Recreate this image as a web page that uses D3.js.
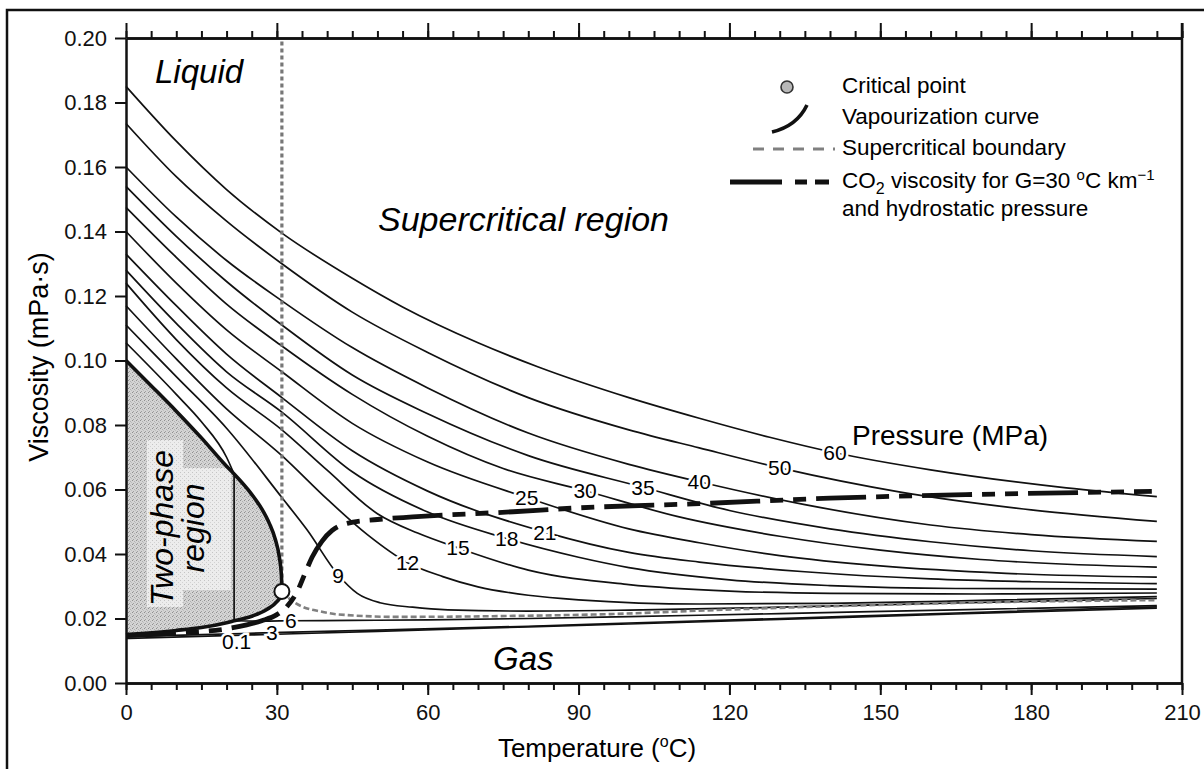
<!DOCTYPE html>
<html>
<head>
<meta charset="utf-8">
<script src="https://cdnjs.cloudflare.com/ajax/libs/d3/7.8.5/d3.min.js"></script>
<style>
    body { margin: 0; background: #fff; }
    svg { display: block; font-family: "Liberation Sans", Arial, sans-serif; }
</style>
</head>
<body>
<svg id="chart" width="1204" height="769"></svg>
<script>
// ---- data: [temperature (C), viscosity (mPa s)] ----
const X_TICKS = [0, 30, 60, 90, 120, 150, 180, 210]
const X_MINOR_STEP = 5
const Y_TICKS = [0, 0.02, 0.04, 0.06, 0.08, 0.10, 0.12, 0.14, 0.16, 0.18, 0.20]

const P60 = [[0, 0.185], [10, 0.168], [20, 0.153], [31, 0.1395], [45, 0.1255], [55, 0.1166], [70, 0.1055], [82, 0.098], [100, 0.0885], [114, 0.0821], [128, 0.0762], [141, 0.0714], [160, 0.0661], [187, 0.0605], [205, 0.0578]]
const P50 = [[0, 0.1735], [10, 0.157], [20, 0.1432], [31, 0.130], [45, 0.115], [60, 0.1025], [80, 0.0885], [100, 0.0785], [114, 0.0729], [130, 0.0667], [154, 0.0592], [180, 0.0537], [205, 0.0501]]
const P40 = [[0, 0.160], [10, 0.1445], [20, 0.131], [31, 0.1185], [45, 0.104], [60, 0.0915], [80, 0.0775], [100, 0.0678], [114, 0.0624], [135, 0.0553], [160, 0.049], [180, 0.046], [205, 0.0439]]
const P35 = [[0, 0.154], [10, 0.1385], [20, 0.1245], [31, 0.111], [45, 0.0955], [60, 0.0835], [80, 0.0705], [102.8, 0.0607], [120, 0.0535], [140, 0.0478], [160, 0.0438], [180, 0.041], [205, 0.0392]]
const P30 = [[0, 0.1475], [10, 0.132], [20, 0.1175], [31, 0.1045], [45, 0.0895], [60, 0.0765], [75, 0.0665], [91.3, 0.0596], [110, 0.0515], [130, 0.0455], [150, 0.0412], [170, 0.0383], [205, 0.0359]]
const P25 = [[0, 0.140], [10, 0.124], [20, 0.1095], [31, 0.0965], [45, 0.0805], [60, 0.0685], [79.7, 0.0575], [100, 0.0478], [114, 0.0435], [130, 0.0395], [150, 0.0363], [175, 0.034], [205, 0.0328]]
const P21 = [[0, 0.133], [10, 0.117], [20, 0.102], [31, 0.0885], [45, 0.072], [60, 0.0595], [83.3, 0.0468], [100, 0.0405], [114, 0.0375], [135, 0.0345], [160, 0.0323], [180, 0.0314], [205, 0.0308]]
const P18 = [[0, 0.128], [10, 0.1115], [20, 0.0965], [31, 0.084], [45, 0.0655], [60, 0.053], [75.7, 0.0448], [90, 0.039], [100, 0.0358], [120, 0.032], [140, 0.0302], [165, 0.0293], [205, 0.0291]]
const P15 = [[0, 0.124], [10, 0.1065], [20, 0.0915], [31, 0.0785], [40, 0.066], [50, 0.0525], [58, 0.0465], [66, 0.0419], [80, 0.035], [100, 0.0305], [120, 0.0285], [140, 0.0278], [170, 0.0276], [205, 0.0279]]
const P12 = [[0, 0.117], [10, 0.1005], [20, 0.085], [31, 0.0705], [40, 0.057], [48, 0.046], [56, 0.0373], [63, 0.033], [70, 0.0298], [80, 0.0272], [90, 0.0258], [114, 0.0245], [140, 0.0247], [170, 0.0256], [205, 0.0268]]
const P9 = [[0, 0.111], [10, 0.095], [20, 0.079], [31, 0.0575], [36, 0.0475], [42.2, 0.0335], [46, 0.0278], [50.5, 0.0249], [57, 0.0235], [64, 0.0227], [80, 0.0223], [100, 0.0226], [130, 0.0235], [165, 0.0248], [205, 0.0262]]
const P6_LIQUID = [[0, 0.1055], [10, 0.0895], [15, 0.081], [20, 0.07], [21.5, 0.0648]]
const P6_GAS = [[21.5, 0.0193], [27, 0.0192], [32.8, 0.0193], [45, 0.0194], [60, 0.0196], [80, 0.02], [100, 0.0206], [130, 0.0215], [165, 0.0227], [205, 0.024]]
const P3 = [[0, 0.0144], [15, 0.015], [29, 0.0156], [50, 0.0164], [80, 0.0176], [100, 0.0186], [130, 0.02], [165, 0.0217], [205, 0.0236]]
const P01 = [[0, 0.0138], [25, 0.0149], [50, 0.016], [80, 0.0174], [100, 0.0183], [130, 0.0197], [165, 0.0214], [205, 0.0232]]

const SAT_LIQUID = [[0, 0.100], [5, 0.0922], [10, 0.0843], [15, 0.076], [20, 0.0672], [21.5, 0.0648], [25, 0.0585], [27, 0.054], [28.5, 0.0495], [29.7, 0.0445], [30.5, 0.039], [30.9, 0.0335], [31, 0.0284]]
const SAT_VAPOUR = [[0, 0.015], [10, 0.0163], [15, 0.0172], [20, 0.0187], [21.5, 0.0193], [25, 0.0207], [28, 0.0228], [30, 0.0252], [30.7, 0.0268], [31, 0.0284]]
const CRITICAL = [31, 0.0284]
const SC_BOUNDARY = [[31, 0.0284], [33, 0.0255], [35, 0.0237], [38.6, 0.0222], [42, 0.0213], [54, 0.0205], [77, 0.0208], [97, 0.0214], [113.5, 0.0224], [140, 0.0238], [174, 0.0251], [205, 0.0257]]
const HYDROSTATIC = [[0, 0.0147], [10, 0.0155], [20, 0.0168], [24, 0.018], [27, 0.0193], [30, 0.0212], [32, 0.0237], [34, 0.0282], [35.6, 0.034], [37, 0.039], [39, 0.044], [41, 0.0473], [44, 0.0495], [50, 0.0507], [57, 0.0515], [77, 0.0531], [90, 0.0543], [114, 0.0556], [140, 0.0573], [167, 0.0584], [204, 0.0594]]

const ISOBARS = [P60, P50, P40, P35, P30, P25, P21, P18, P15, P12, P9, P6_LIQUID, P6_GAS, P3, P01]
const ISOBAR_NAMES = ['0.1', '3', '6', '9', '12', '15', '18', '21', '25', '30', '35', '40', '50', '60']
const ISOBAR_LABEL_AT = [[22, 0.0128], [29, 0.0156], [32.8, 0.0193], [42.2, 0.0335], [56, 0.0373], [66, 0.0419], [75.7, 0.0448], [83.3, 0.0468], [79.7, 0.0575], [91.3, 0.0596], [102.8, 0.0607], [114, 0.0624], [130, 0.0667], [141, 0.0714]]

// ---- layout ----
const svg = d3.select('#chart')
const x = d3.scaleLinear().domain([0, 210]).range([126, 1182])
const y = d3.scaleLinear().domain([0, 0.20]).range([683, 38])

const line = d3.line()
    .x(d => x(d[0]))
    .y(d => y(d[1]))
    .curve(d3.curveMonotoneX)

drawFrame()
drawTwoPhase()
drawIsobars()
drawBoundaries()
drawAxes()
drawTexts()
drawLegend()

function drawFrame() {
    svg.append('rect')
        .attr('x', 7).attr('y', 10)
        .attr('width', 1230).attr('height', 800)
        .attr('fill', 'none')
        .attr('stroke', '#111')
        .attr('stroke-width', 2.5)
}

function drawTwoPhase() {
    const defs = svg.append('defs')
    const stipple = (id, base, dots) => {
        const p = defs.append('pattern')
            .attr('id', id)
            .attr('width', 4).attr('height', 4)
            .attr('patternUnits', 'userSpaceOnUse')
        p.append('rect').attr('width', 4).attr('height', 4).attr('fill', base)
        dots.forEach(d => {
            p.append('rect').attr('x', d[0]).attr('y', d[1])
                .attr('width', 1).attr('height', 1).attr('fill', d[2])
        })
    }
    stipple('stipple', '#d4d4d4', [[0, 0, '#8f8f8f'], [2, 1, '#b0b0b0'], [1, 3, '#a0a0a0'], [3, 2, '#bdbdbd']])
    stipple('stippleLight', '#ececec', [[0, 0, '#c4c4c4'], [2, 2, '#d2d2d2']])

    const upper = line(SAT_LIQUID)
    const lower = line(SAT_VAPOUR.slice().reverse())
    svg.append('path')
        .attr('d', upper + lower.replace(/^M/, 'L') + 'Z')
        .attr('fill', 'url(#stipple)')

    // lighter boxes behind the rotated label
    svg.append('rect')
        .attr('x', 147).attr('y', 440).attr('width', 36).attr('height', 167)
        .attr('fill', 'url(#stippleLight)')
    svg.append('rect')
        .attr('x', 183).attr('y', 468).attr('width', 48).attr('height', 122)
        .attr('fill', 'url(#stippleLight)')

    svg.append('text')
        .attr('transform', 'translate(173,528) rotate(-90)')
        .attr('text-anchor', 'middle')
        .style('font-size', '32px')
        .style('font-style', 'italic')
        .text('Two-phase')
    svg.append('text')
        .attr('transform', 'translate(204,528) rotate(-90)')
        .attr('text-anchor', 'middle')
        .style('font-size', '32px')
        .style('font-style', 'italic')
        .text('region')
}

function drawIsobars() {
    ISOBARS.forEach(function (d) {
        svg.append('path')
            .datum(d)
            .attr('d', line)
            .attr('fill', 'none')
            .attr('stroke', '#111')
            .attr('stroke-width', 1.7)
    })

    // 6 MPa crosses the two-phase region at constant temperature
    const a = P6_LIQUID[P6_LIQUID.length - 1]
    const b = P6_GAS[0]
    svg.append('line')
        .attr('x1', x(a[0])).attr('y1', y(a[1]))
        .attr('x2', x(b[0])).attr('y2', y(b[1]))
        .attr('stroke', '#111')
        .attr('stroke-width', 1.7)
}

function drawBoundaries() {
    // supercritical boundary, vertical at the critical temperature
    svg.append('line')
        .attr('x1', x(CRITICAL[0])).attr('x2', x(CRITICAL[0]))
        .attr('y1', y(CRITICAL[1]) - 7).attr('y2', y(0.20))
        .attr('stroke', '#777')
        .attr('stroke-width', 3.2)
        .attr('stroke-dasharray', '4 3')

    svg.append('path')
        .datum(SC_BOUNDARY)
        .attr('d', line)
        .attr('fill', 'none')
        .attr('stroke', '#808080')
        .attr('stroke-width', 2.6)
        .attr('stroke-dasharray', '6 3')

    // vapourization curve
    ;[SAT_LIQUID, SAT_VAPOUR].forEach(function (d) {
        svg.append('path')
            .datum(d)
            .attr('d', line)
            .attr('fill', 'none')
            .attr('stroke', '#111')
            .attr('stroke-width', 3.6)
    })

    svg.append('path')
        .datum(HYDROSTATIC)
        .attr('d', line)
        .attr('fill', 'none')
        .attr('stroke', '#111')
        .attr('stroke-width', 4.8)
        .attr('stroke-dasharray', '50 10 13 10 13 10')

    svg.append('circle')
        .attr('cx', x(CRITICAL[0]))
        .attr('cy', y(CRITICAL[1]))
        .attr('r', 7.5)
        .attr('fill', '#fff')
        .attr('stroke', '#111')
        .attr('stroke-width', 2)

    // pressure labels sitting on the isobars
    svg.selectAll('.plabel')
        .data(ISOBAR_NAMES)
        .enter()
        .append('text')
        .attr('class', 'plabel')
        .attr('x', (d, i) => x(ISOBAR_LABEL_AT[i][0]))
        .attr('y', (d, i) => y(ISOBAR_LABEL_AT[i][1]))
        .attr('dy', '0.36em')
        .attr('text-anchor', 'middle')
        .attr('stroke', '#fff')
        .attr('stroke-width', 5)
        .attr('paint-order', 'stroke')
        .style('font-size', '21px')
        .text(d => d)
}

function drawAxes() {
    const styleAxis = g => {
        g.select('.domain').attr('stroke', '#111').attr('stroke-width', 2.5)
        g.selectAll('.tick line').attr('stroke', '#111').attr('stroke-width', 2)
        g.selectAll('.tick text').style('font-size', '22px').attr('fill', '#111')
    }
    const minor = d3.range(0, 210 + X_MINOR_STEP, X_MINOR_STEP)

    svg.append('g')
        .attr('transform', `translate(0,${y(0)})`)
        .call(d3.axisBottom(x).tickValues(minor).tickSize(7).tickSizeOuter(0).tickFormat(''))
        .call(styleAxis)
    svg.append('g')
        .attr('transform', `translate(0,${y(0)})`)
        .call(d3.axisBottom(x).tickValues(X_TICKS).tickSize(12).tickSizeOuter(0).tickPadding(9))
        .call(styleAxis)

    svg.append('g')
        .attr('transform', `translate(0,${y(0.20)})`)
        .call(d3.axisTop(x).tickValues(minor).tickSize(7).tickSizeOuter(0).tickFormat(''))
        .call(styleAxis)
    svg.append('g')
        .attr('transform', `translate(0,${y(0.20)})`)
        .call(d3.axisTop(x).tickValues(X_TICKS).tickSize(15).tickSizeOuter(0).tickFormat(''))
        .call(styleAxis)

    svg.append('g')
        .attr('transform', `translate(${x(0)},0)`)
        .call(d3.axisLeft(y).tickValues(Y_TICKS).tickSize(11).tickSizeOuter(0).tickPadding(8).tickFormat(d3.format('.2f')))
        .call(styleAxis)

    svg.append('line')
        .attr('x1', x(210)).attr('x2', x(210))
        .attr('y1', y(0)).attr('y2', y(0.20) - 15)
        .attr('stroke', '#111')
        .attr('stroke-width', 2.5)

    // X label
    const xl = svg.append('text')
        .attr('x', 597)
        .attr('y', 757)
        .attr('text-anchor', 'middle')
        .style('font-size', '26px')
    xl.append('tspan').text('Temperature (')
    xl.append('tspan').attr('dy', -10).style('font-size', '16px').text('o')
    xl.append('tspan').attr('dy', 10).text('C)')

    // Y label
    svg.append('text')
        .attr('transform', 'translate(48,357) rotate(-90)')
        .attr('text-anchor', 'middle')
        .style('font-size', '27px')
        .text('Viscosity (mPa\u00b7s)')
}

function drawTexts() {
    const regions = [
        ['Liquid', 155, 83, 33],
        ['Supercritical region', 378, 231, 34],
        ['Gas', 493, 670, 33]
    ]
    regions.forEach(function (d) {
        svg.append('text')
            .attr('x', d[1])
            .attr('y', d[2])
            .style('font-size', d[3] + 'px')
            .style('font-style', 'italic')
            .text(d[0])
    })

    svg.append('text')
        .attr('x', 852)
        .attr('y', 445)
        .style('font-size', '28px')
        .text('Pressure (MPa)')
}

function drawLegend() {
    const tx = 842

    svg.append('circle')
        .attr('cx', 787).attr('cy', 87).attr('r', 6)
        .attr('fill', '#b8b8b8')
        .attr('stroke', '#333')
        .attr('stroke-width', 1.6)

    svg.append('path')
        .attr('d', 'M772,132 Q797,126 807,105')
        .attr('fill', 'none')
        .attr('stroke', '#111')
        .attr('stroke-width', 3.6)

    svg.append('line')
        .attr('x1', 753).attr('x2', 835)
        .attr('y1', 149).attr('y2', 149)
        .attr('stroke', '#808080')
        .attr('stroke-width', 3)
        .attr('stroke-dasharray', '11 9')

    svg.append('line')
        .attr('x1', 730).attr('x2', 829)
        .attr('y1', 182).attr('y2', 182)
        .attr('stroke', '#111')
        .attr('stroke-width', 4.8)
        .attr('stroke-dasharray', '52 13 12 8 14 100')

    const items = [['Critical point', 93], ['Vapourization curve', 124], ['Supercritical boundary', 155]]
    items.forEach(function (d) {
        svg.append('text')
            .attr('x', tx)
            .attr('y', d[1])
            .style('font-size', '22.5px')
            .text(d[0])
    })

    const co2 = svg.append('text')
        .attr('x', tx)
        .attr('y', 188)
        .style('font-size', '22.5px')
    co2.append('tspan').text('CO')
    co2.append('tspan').attr('dy', 6).style('font-size', '16px').text('2')
    co2.append('tspan').attr('dy', -6).text(' viscosity for G=30 ')
    co2.append('tspan').attr('dy', -8).style('font-size', '15px').text('o')
    co2.append('tspan').attr('dy', 8).text('C km')
    co2.append('tspan').attr('dy', -8).style('font-size', '15px').text('\u22121')

    svg.append('text')
        .attr('x', tx)
        .attr('y', 216)
        .style('font-size', '22.5px')
        .text('and hydrostatic pressure')
}
</script>
</body>
</html>
